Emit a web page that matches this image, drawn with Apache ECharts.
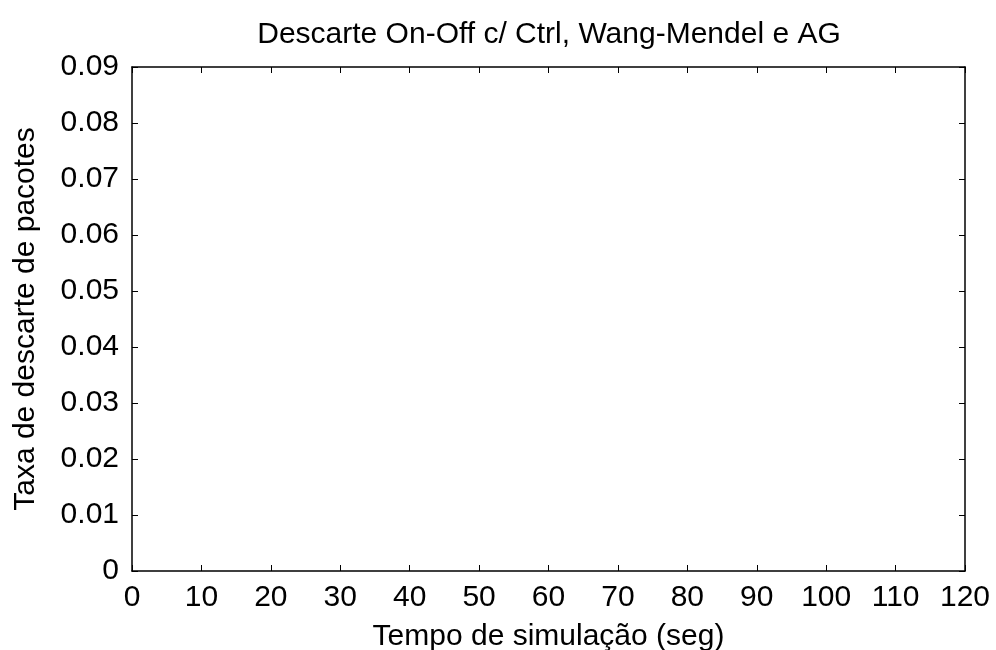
<!DOCTYPE html>
<html>
<head>
<meta charset="utf-8">
<script src="https://cdn.jsdelivr.net/npm/echarts@6/dist/echarts.min.js"></script>
<style>
  html, body { margin: 0; padding: 0; background: #fff; }
  #chart { width: 996px; height: 650px; }
</style>
</head>
<body>
<div id="chart"></div>
<script>
// Axis ranges and tick labels
const xTicks = [0, 10, 20, 30, 40, 50, 60, 70, 80, 90, 100, 110, 120];
const yTicks = [0, 0.01, 0.02, 0.03, 0.04, 0.05, 0.06, 0.07, 0.08, 0.09];
const yTickLabels = ['0', '0.01', '0.02', '0.03', '0.04', '0.05', '0.06', '0.07', '0.08', '0.09'];

// Drop-rate series (no samples recorded in this run)
const seriesTime = [];
const seriesDropRate = [];

const titleText = 'Descarte On-Off c/ Ctrl, Wang-Mendel e AG';
const xName = 'Tempo de simulação (seg)';
const yName = 'Taxa de descarte de pacotes';

const font = 'Liberation Sans, Arial, Helvetica, sans-serif';
const fontSize = 30;
const lineColor = '#000';

function yLabel(v) {
  const i = yTicks.findIndex(t => Math.abs(t - v) < 1e-9);
  return i >= 0 ? yTickLabels[i] : '';
}

function axisBase() {
  return {
    axisLine: { show: true, onZero: false, lineStyle: { color: lineColor, width: 1.5 } },
    axisTick: { show: true, inside: true, length: 6, lineStyle: { color: lineColor, width: 1 } },
    splitLine: { show: false }
  };
}

const xMin = xTicks[0], xMax = xTicks[xTicks.length - 1];
const yMin = yTicks[0], yMax = yTicks[yTicks.length - 1];

const chart = echarts.init(document.getElementById('chart'), null, { renderer: 'canvas' });
chart.setOption({
  animation: false,
  backgroundColor: '#fff',
  title: {
    text: titleText,
    left: 544, top: 15, textAlign: 'center',
    textStyle: { fontFamily: font, fontSize: fontSize, fontWeight: 'normal', color: '#000' }
  },
  grid: {
    left: 132, right: 31, top: 67, bottom: 79,
    containLabel: false, outerBoundsMode: 'none'
  },
  xAxis: [
    Object.assign(axisBase(), {
      type: 'value', min: xMin, max: xMax, interval: 10,
      position: 'bottom',
      name: xName, nameLocation: 'middle', nameGap: 51,
      nameTextStyle: { fontFamily: font, fontSize: fontSize, color: '#000' },
      axisLabel: { fontFamily: font, fontSize: fontSize, color: '#000', margin: 12 }
    }),
    Object.assign(axisBase(), {
      type: 'value', min: xMin, max: xMax, interval: 10,
      position: 'top', axisLabel: { show: false }
    })
  ],
  yAxis: [
    Object.assign(axisBase(), {
      type: 'value', min: yMin, max: yMax, interval: 0.01,
      position: 'left',
      name: yName, nameLocation: 'middle', nameGap: 91, nameRotate: 90,
      nameTextStyle: { fontFamily: font, fontSize: fontSize, color: '#000' },
      axisLabel: { fontFamily: font, fontSize: fontSize, color: '#000', margin: 13, formatter: yLabel }
    }),
    Object.assign(axisBase(), {
      type: 'value', min: yMin, max: yMax, interval: 0.01,
      position: 'right', axisLabel: { show: false }
    })
  ],
  series: [{
    type: 'line',
    xAxisIndex: 0, yAxisIndex: 0,
    data: seriesTime.map((t, i) => [t, seriesDropRate[i]]),
    showSymbol: false,
    lineStyle: { color: '#ff0000', width: 1.5 }
  }]
});
</script>
</body>
</html>
